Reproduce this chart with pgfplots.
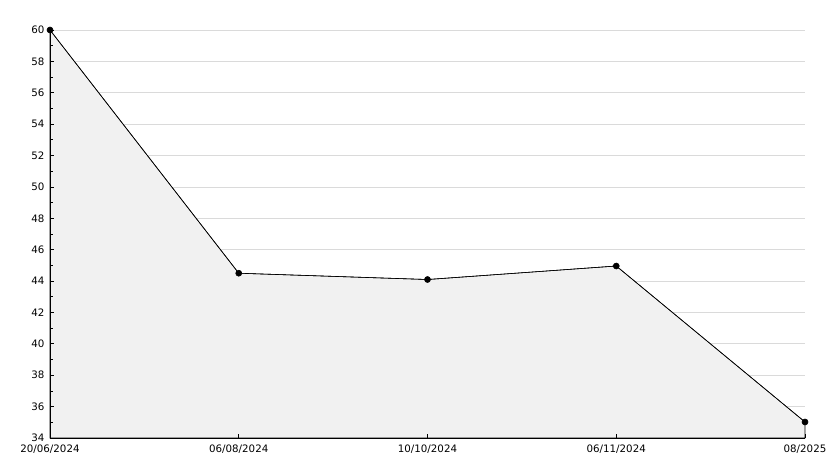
\documentclass[border=0pt]{standalone}
\usepackage{pgfplots}
\pgfplotsset{compat=1.18}
\usepackage{fontspec}
\setmainfont{DejaVu Sans}
\definecolor{fillgray}{HTML}{F1F1F1}
\definecolor{gridgray}{HTML}{DADADA}
\begin{document}
\begin{tikzpicture}
\begin{axis}[
  at={(0,0)}, anchor=south west,
  scale only axis, width=755bp, height=408bp,
  xmin=0, xmax=4, ymin=34, ymax=60,
  set layers=axis on top,
  axis x line=bottom, axis y line=left,
  axis line style={-, black, line width=0.9bp},
  xtick={0,1,2,3,4},
  xticklabels={20/06/2024,06/08/2024,10/10/2024,06/11/2024,08/2025},
  ytick={34,36,...,60},
  minor y tick num=1,
  tick align=inside,
  major tick length=4bp, minor tick length=3bp,
  every tick/.style={black, line width=0.8bp},
  every minor tick/.style={black, line width=0.8bp},
  ymajorgrids,
  major grid style={gridgray, line width=0.8bp, /pgfplots/on layer=axis background},
  ticklabel style={font=\fontsize{10.3}{12}\selectfont},
  /pgf/number format/assume math mode=true,
  yticklabel style={xshift=-2bp},
  xticklabel style={yshift=-3bp},
  clip=false,
]
\addplot[fill=fillgray, draw=black, line width=0.6bp] coordinates {
 (0,60) (1,44.5) (2,44.1) (3,44.96) (4,35.02)} \closedcycle;
\addplot[black, line width=0.6bp, mark=*, mark size=3bp, mark options={fill=black}] coordinates {
 (0,60) (1,44.5) (2,44.1) (3,44.96) (4,35.02)};
\end{axis}
\pgfresetboundingbox
\path (-50bp,-30bp) rectangle (784bp,438bp);
\end{tikzpicture}
\end{document}
